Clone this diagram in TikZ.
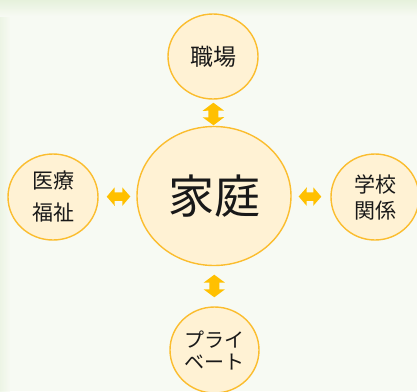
\documentclass[tikz,border=0pt]{standalone}
\usepackage{fontspec}
\setmainfont{Noto Sans CJK JP}
\usetikzlibrary{shapes.geometric,arrows.meta}
\definecolor{bgpaper}{HTML}{F7FAF3}
\definecolor{bgedge}{HTML}{E6F1DC}
\definecolor{ringfill}{HTML}{FFF2D4}
\definecolor{ringline}{HTML}{FBBD2E}
\definecolor{linkgold}{HTML}{FFC000}

\begin{document}
\begin{tikzpicture}[x=1pt, y=-1pt,
	ring/.style={ellipse, draw=ringline, fill=ringfill, line width=1.4pt, inner sep=0pt, text=black!90, align=center},
	link/.style={draw=linkgold, line width=10pt, {Triangle[length=8pt,width=21pt]}-{Triangle[length=8pt,width=21pt]}},
	hlink/.style={link, line width=8.5pt, {Triangle[length=8pt,width=18pt]}-{Triangle[length=8pt,width=18pt]}}]
	% background
	\useasboundingbox (0,0) rectangle (417,391);
	\fill[bgpaper] (0,0) rectangle (417,391);
	\shade[left color=bgedge, right color=bgpaper, opacity=0.6] (0,0) rectangle (10,391);
	\shade[top color=bgedge, bottom color=bgpaper] (0,0) rectangle (417,16);
	% Nodes
	\node[ring, minimum width=154pt, minimum height=139pt, font=\fontsize{46}{50}\selectfont] (home) at (214,196) {家庭};
	\node[ring, minimum width=90pt, minimum height=85pt, font=\fontsize{23}{26}\selectfont] (work) at (213,56.5) {職場};
	\node[ring, minimum width=90pt, minimum height=86pt, font=\fontsize{21}{32}\selectfont] (care) at (53,197) {医療\\福祉};
	\node[ring, minimum width=88pt, minimum height=86pt, font=\fontsize{21}{26}\selectfont] (school) at (375,197) {学校\\関係};
	\node[ring, minimum width=89pt, minimum height=86pt, font=\fontsize{20}{22}\selectfont] (private) at (214.5,350) {プライ\\ベート};
	% Links
	\draw[link, shorten <=3pt, shorten >=0.5pt] (work) -- (home);
	\draw[link, shorten <=8.5pt, shorten >=9pt] (home) -- (private);
	\draw[hlink, shorten <=8pt, shorten >=6pt] (care) -- (home);
	\draw[hlink, shorten <=7pt, shorten >=9pt] (home) -- (school);
\end{tikzpicture}
\end{document}
